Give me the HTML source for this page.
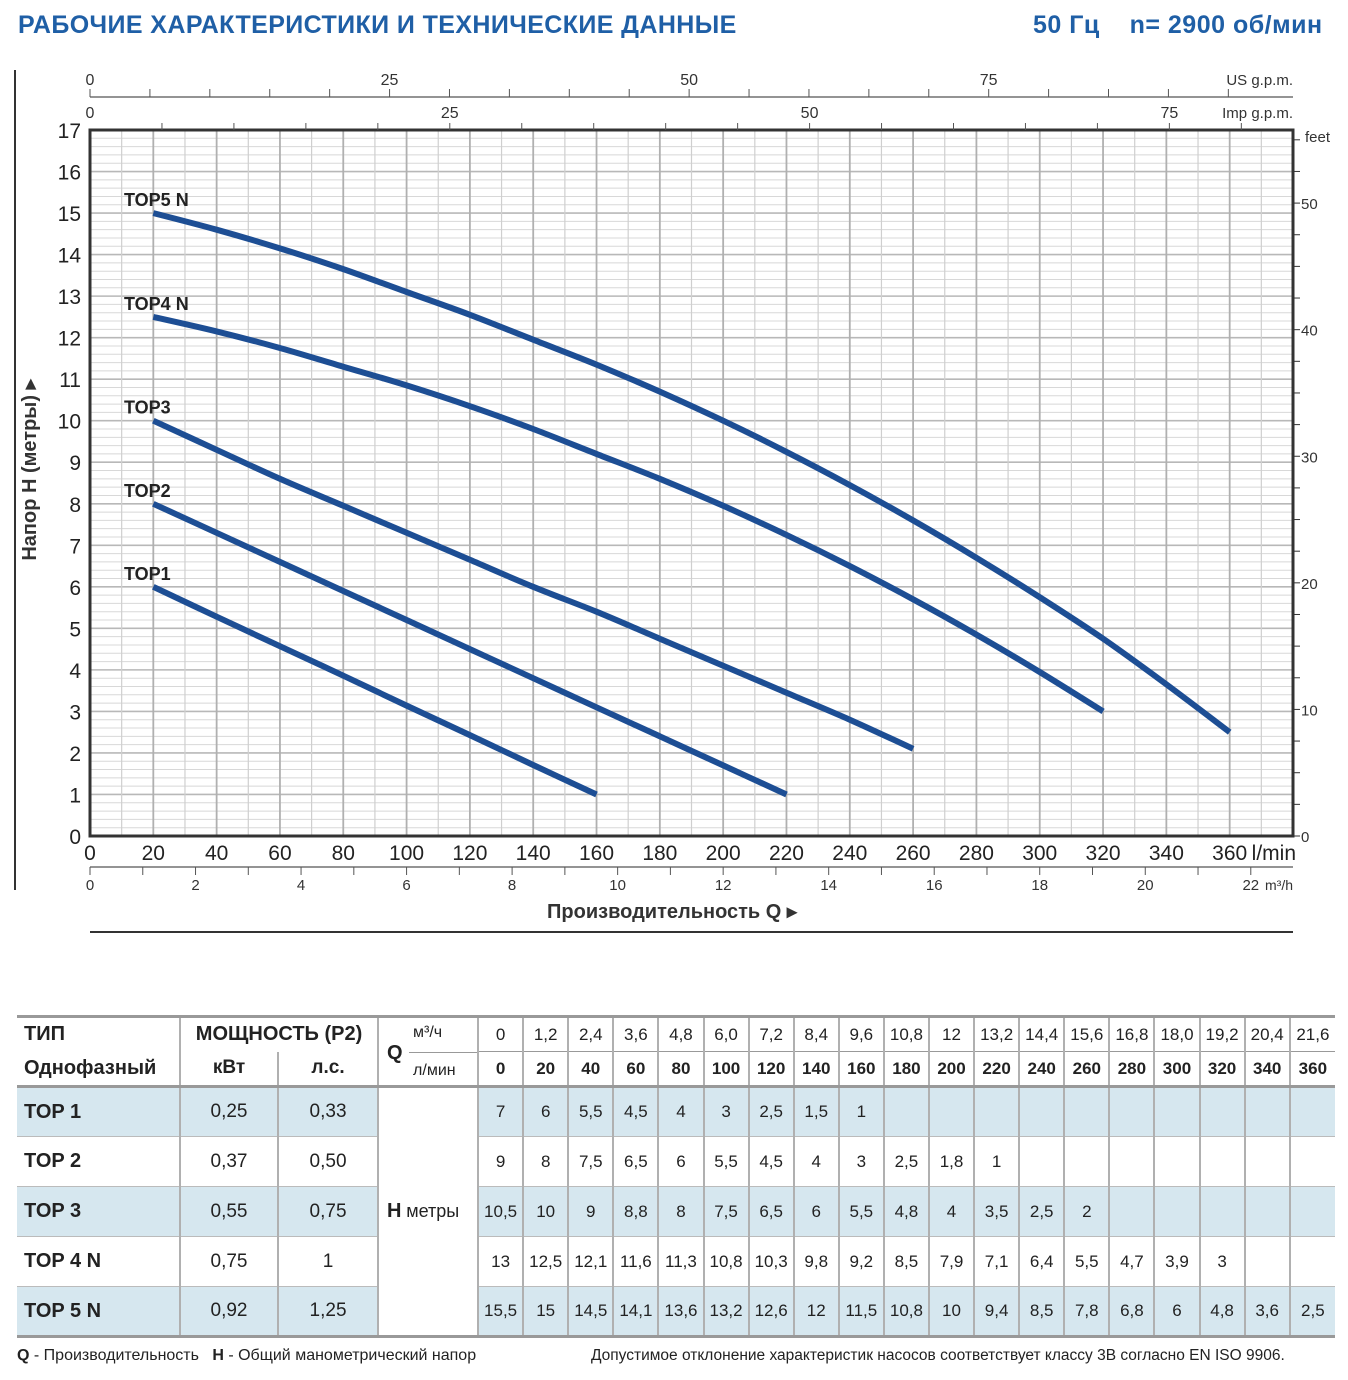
<!DOCTYPE html>
<html><head><meta charset="utf-8">
<style>
body{margin:0;width:1348px;height:1380px;background:#fff;font-family:"Liberation Sans",sans-serif;position:relative;overflow:hidden}
.title{position:absolute;top:11px;font-weight:bold;color:#1f5fa6;font-size:25px;font-family:"Liberation Sans",sans-serif}
table{position:absolute;left:17px;top:1015px;border-collapse:collapse;table-layout:fixed;width:1318px;font-family:"Liberation Sans",sans-serif;color:#222}
td{border-left:2px solid #b0b0b0;text-align:center;font-size:17px;padding:0;white-space:nowrap;overflow:hidden}
tr.s td.c{background:#d6e7ef}
.foot{position:absolute;top:1347px;font-size:16px;color:#222;font-family:"Liberation Sans",sans-serif;white-space:nowrap}
</style></head><body>
<div class="title" style="left:18px;letter-spacing:0.4px">РАБОЧИЕ ХАРАКТЕРИСТИКИ И ТЕХНИЧЕСКИЕ ДАННЫЕ</div>
<div class="title" style="left:1033px;letter-spacing:0.5px">50 Гц&nbsp;&nbsp;&nbsp;&nbsp;n= 2900 об/мин</div>
<svg id="chart" width="1348" height="1000" style="position:absolute;left:0;top:0" font-family="Liberation Sans, sans-serif"></svg>

<table id="tbl"></table>
<div class="foot" style="left:17px"><b>Q</b> - Производительность&nbsp;&nbsp; <b>H</b> - Общий манометрический напор</div>
<div class="foot" style="left:591px;font-size:15.5px">Допустимое отклонение характеристик насосов соответствует классу 3B согласно EN ISO 9906.</div>
<script>
const flows=[20,40,60,80,100,120,140,160,180,200,220,240,260,280,300,320,340,360];
const top1=[6,5.28,4.57,3.86,3.14,2.43,1.71,1];
const top2=[8,7.3,6.6,5.9,5.2,4.5,3.8,3.1,2.4,1.7,1];
const top3=[10,9.3,8.6,7.95,7.3,6.65,6.0,5.4,4.75,4.1,3.45,2.8,2.1];
const top4=[12.5,12.15,11.75,11.3,10.85,10.35,9.8,9.2,8.6,7.95,7.25,6.5,5.7,4.85,3.95,3.0];
const top5=[15,14.6,14.15,13.65,13.1,12.55,11.95,11.35,10.7,10.0,9.25,8.45,7.6,6.7,5.75,4.75,3.65,2.5];
const curveNames=['TOP1','TOP2','TOP3','TOP4 N','TOP5 N'];
const series=[top1,top2,top3,top4,top5];
const xTicks=[0,20,40,60,80,100,120,140,160,180,200,220,240,260,280,300,320,340,360];
const yTicks=[0,1,2,3,4,5,6,7,8,9,10,11,12,13,14,15,16,17];
const usTicks=[0,25,50,75];const impTicks=[0,25,50,75];
const m3Ticks=[0,2,4,6,8,10,12,14,16,18,20,22];const feetTicks=[0,10,20,30,40,50];
const X0=90,X1=1293,Y0=836,Y1=130;
const xs=q=>X0+q*(X1-X0)/380, ys=h=>Y0-h*(Y0-Y1)/17;
const svg=document.getElementById('chart');const NS='http://www.w3.org/2000/svg';
function mk(t,a,txt){const e=document.createElementNS(NS,t);for(const k in a)e.setAttribute(k,a[k]);if(txt!=null)e.textContent=txt;svg.appendChild(e);return e;}
for(let h=0;h<=17.001;h+=0.2){const maj=Math.abs(h-Math.round(h))<0.01;const e=mk('line',{x1:X0,x2:X1,y1:ys(h),y2:ys(h),stroke:maj?'#b8b8b8':'#d8d8d8','stroke-width':maj?1.6:1});
}
for(let q=10;q<380;q+=10){const maj=q%20==0;const e=mk('line',{x1:xs(q),x2:xs(q),y1:Y1,y2:Y0,stroke:maj?'#b0b0b0':'#cfcfcf','stroke-width':maj?1.8:1.2});
}
let e=mk('rect',{x:X0,y:Y1,width:X1-X0,height:Y0-Y1,fill:'none',stroke:'#333','stroke-width':3});

e=mk('line',{x1:15,x2:15,y1:70,y2:890,stroke:'#333','stroke-width':2});
yTicks.forEach(v=>{const t=mk('text',{x:81,y:ys(v)+8,'text-anchor':'end','font-size':21,fill:'#222'},v);});
xTicks.forEach(v=>{const t=mk('text',{x:xs(v),y:860,'text-anchor':'middle','font-size':21,fill:'#222'},v);});
e=mk('text',{x:1296,y:860,'text-anchor':'end','font-size':21,fill:'#222'},'l/min');
e=mk('line',{x1:X0,x2:X1,y1:867,y2:867,stroke:'#555','stroke-width':1.2});
for(let m=0;m<=22;m++){const x=xs(m*1000/60);e=mk('line',{x1:x,x2:x,y1:867,y2:875,stroke:'#555'});}
m3Ticks.forEach(v=>{const t=mk('text',{x:xs(v*1000/60),y:890,'text-anchor':'middle','font-size':15,fill:'#333'},v);});
e=mk('text',{x:1293,y:890,'text-anchor':'end','font-size':14,fill:'#333'},'m³/h');
e=mk('line',{x1:X0,x2:1293,y1:97,y2:97,stroke:'#555','stroke-width':1.2});
for(let g=0;g<=95;g+=5){const x=xs(g*3.785);if(x>1250)break;e=mk('line',{x1:x,x2:x,y1:89,y2:97,stroke:'#555'});}
usTicks.forEach(v=>{const t=mk('text',{x:xs(v*3.785),y:85,'text-anchor':'middle','font-size':16,fill:'#333'},v);});
e=mk('text',{x:1293,y:85,'text-anchor':'end','font-size':15,fill:'#333'},'US g.p.m.');
for(let g=5;g<=80;g+=5){const x=xs(g*4.546);e=mk('line',{x1:x,x2:x,y1:123,y2:130,stroke:'#555'});}
impTicks.forEach(v=>{const t=mk('text',{x:xs(v*4.546),y:118,'text-anchor':'middle','font-size':16,fill:'#333'},v);});
e=mk('text',{x:1293,y:118,'text-anchor':'end','font-size':15,fill:'#333'},'Imp g.p.m.');
for(let f=0;f<=55;f+=2.5){const y=ys(f*0.3048);if(y<Y1)break;e=mk('line',{x1:X1,x2:X1+7,y1:y,y2:y,stroke:'#333'});}
feetTicks.forEach(v=>{const t=mk('text',{x:1301,y:ys(v*0.3048)+6,'font-size':15,fill:'#333'},v);});
e=mk('text',{x:1330,y:142,'text-anchor':'end','font-size':15,fill:'#333'},'feet');
e=mk('text',{x:672,y:918,'text-anchor':'middle','font-size':20,'font-weight':'bold',fill:'#333'},'Производительность Q  ▸');
e=mk('text',{x:36,y:470,'text-anchor':'middle','font-size':20,'font-weight':'bold',fill:'#333',transform:'rotate(-90 36 470)'},'Напор H (метры)  ▸');
e=mk('line',{x1:90,x2:1293,y1:932,y2:932,stroke:'#333','stroke-width':2});
function smooth(pts){let d='M'+pts[0][0].toFixed(1)+' '+pts[0][1].toFixed(1);
for(let i=0;i<pts.length-1;i++){const p0=pts[i-1]||pts[i],p1=pts[i],p2=pts[i+1],p3=pts[i+2]||p2;
const c1=[p1[0]+(p2[0]-p0[0])/6,p1[1]+(p2[1]-p0[1])/6],c2=[p2[0]-(p3[0]-p1[0])/6,p2[1]-(p3[1]-p1[1])/6];
d+=' C'+c1.map(v=>v.toFixed(1)).join(' ')+' '+c2.map(v=>v.toFixed(1)).join(' ')+' '+p2[0].toFixed(1)+' '+p2[1].toFixed(1);}return d;}
series.forEach((s,i)=>{const pts=s.map((h,j)=>[xs(flows[j]),ys(h)]);
const p=mk('path',{d:smooth(pts),fill:'none',stroke:'#1d4e94','stroke-width':6,'stroke-linecap':'butt','stroke-linejoin':'round'});

const t=mk('text',{x:124,y:ys(s[0])-7,'font-size':18,'font-weight':'bold',fill:'#222'},curveNames[i]);
});
const m3=['0','1,2','2,4','3,6','4,8','6,0','7,2','8,4','9,6','10,8','12','13,2','14,4','15,6','16,8','18,0','19,2','20,4','21,6'];
const lm=['0','20','40','60','80','100','120','140','160','180','200','220','240','260','280','300','320','340','360'];
const rows=[['TOP 1','0,25','0,33',['7','6','5,5','4,5','4','3','2,5','1,5','1']],
['TOP 2','0,37','0,50',['9','8','7,5','6,5','6','5,5','4,5','4','3','2,5','1,8','1']],
['TOP 3','0,55','0,75',['10,5','10','9','8,8','8','7,5','6,5','6','5,5','4,8','4','3,5','2,5','2']],
['TOP 4 N','0,75','1',['13','12,5','12,1','11,6','11,3','10,8','10,3','9,8','9,2','8,5','7,9','7,1','6,4','5,5','4,7','3,9','3']],
['TOP 5 N','0,92','1,25',['15,5','15','14,5','14,1','13,6','13,2','12,6','12','11,5','10,8','10','9,4','8,5','7,8','6,8','6','4,8','3,6','2,5']]];
let h='<colgroup><col style="width:163px"><col style="width:98px"><col style="width:100px"><col style="width:100px">';
for(let i=0;i<19;i++)h+='<col style="width:45.1px">';h+='</colgroup>';
h+='<tr style="height:35px;border-top:3px solid #999"><td style="text-align:left;padding-left:7px;font-weight:bold;font-size:20px;border-left:none">ТИП</td><td colspan="2" style="font-weight:bold;font-size:20px">МОЩНОСТЬ (P2)</td><td rowspan="2" style="text-align:left;position:relative"><b style="font-size:20px;position:absolute;left:8px;top:24px">Q</b><span style="position:absolute;left:34px;top:6px;font-size:16px">м³/ч</span><span style="position:absolute;left:34px;top:44px;font-size:16px">л/мин</span><div style="position:absolute;left:30px;right:0;top:34px;border-top:1px solid #999"></div></td>';
m3.forEach(v=>h+='<td style="border-bottom:1px solid #999">'+v+'</td>');
h+='</tr><tr style="height:35px;border-bottom:3px solid #999"><td style="text-align:left;padding-left:7px;font-weight:bold;font-size:20px;border-left:none">Однофазный</td><td style="font-weight:bold;font-size:19px">кВт</td><td style="font-weight:bold;font-size:19px">л.с.</td>';
lm.forEach(v=>h+='<td style="font-weight:bold">'+v+'</td>');h+='</tr>';
rows.forEach((r,i)=>{h+='<tr class="'+(i%2==0?'s':'')+'" style="height:50px'+(i==4?';border-bottom:3px solid #999':';border-bottom:1px solid #bbb')+'"><td class="c" style="text-align:left;padding-left:7px;font-weight:bold;font-size:20px;border-left:none">'+r[0]+'</td><td class="c" style="font-size:19px">'+r[1]+'</td><td class="c" style="font-size:19px">'+r[2]+'</td>';
if(i==0)h+='<td rowspan="5" style="background:#fff;text-align:left;padding-left:8px"><b style="font-size:20px">H</b> <span style="font-size:18px">метры</span></td>';
for(let j=0;j<19;j++)h+='<td class="c">'+(r[3][j]||'')+'</td>';h+='</tr>';});
document.getElementById('tbl').innerHTML=h;
</script>
</body></html>
